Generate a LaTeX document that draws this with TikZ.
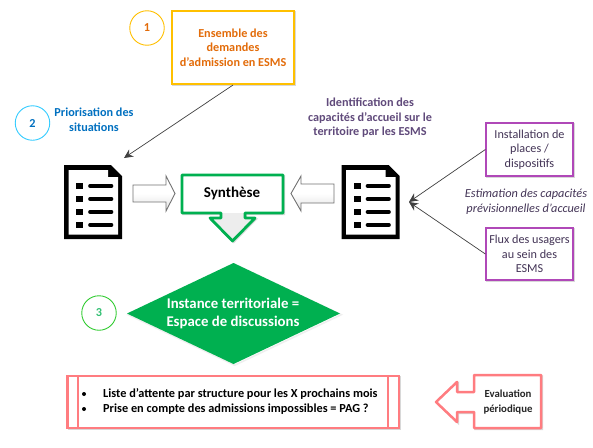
\documentclass[tikz,border=0pt]{standalone}
\usepackage{fontspec}
\setmainfont{Carlito}
\usetikzlibrary{arrows.meta}
\definecolor{cyellow}{HTML}{FFC000}
\definecolor{corange}{HTML}{E36C0A}
\definecolor{ccyan}{HTML}{33CCFF}
\definecolor{cblue}{HTML}{0070C0}
\definecolor{cgreen}{HTML}{00B050}
\definecolor{clgreen}{HTML}{33CC33}
\definecolor{cpurple}{HTML}{604A7B}
\definecolor{cmag}{HTML}{B048B8}
\definecolor{cred}{HTML}{FF7C80}
\definecolor{cdark}{HTML}{404040}
\tikzset{
 x=1pt,y=-1pt,
 lab/.style={align=center,font=\fontsize{12.2}{14.6}\selectfont,inner sep=0pt},
 blab/.style={align=center,font=\fontsize{12.2}{14.6}\selectfont\bfseries,inner sep=0pt},
 numc/.style={circle,draw,line width=.9pt,minimum size=34.5pt,inner sep=0pt,font=\fontsize{12.2}{13}\selectfont\bfseries,fill=white},
 conn/.style={draw=cdark,line width=.7pt,-{Stealth[length=9pt,width=8.5pt]}},
 softshadow/.style={draw=black!30,line width=1.6pt,draw opacity=.5,shift={(1.2pt,-1.2pt)}},
 whitearrow/.style={draw=black!55,line width=.9pt,top color=white,bottom color=black!12,middle color=white},
 docfree/.style={minimum width=58pt,minimum height=74pt,inner sep=0pt}
}
\newcommand{\docicon}[1]{%
 \begin{scope}[shift={(#1,0)}]
  \fill[black] (64,165)--(111,165)--(122,176)--(122,239)--(64,239)--cycle;
  \fill[white] (68.5,170)--(108,170)--(108,177)--(118,177)--(118,234.5)--(68.5,234.5)--cycle;
  \foreach \yy in {186,199,212,225}{
   \fill[black] (76,\yy-3.2) rectangle (83,\yy+3.2);
   \draw[black,line width=3.6pt,line cap=round] (90,\yy)--(111.5,\yy);
  }
 \end{scope}}
\begin{document}
\begin{tikzpicture}
\useasboundingbox (0,0) rectangle (593,447);
\fill[white] (0,0) rectangle (593,447);

% circles
\node[numc,draw=cyellow,text=corange] (c1) at (147,28) {1};
\node[numc,draw=ccyan,text=cblue] (c2) at (32.5,123) {2};
\node[numc,draw=clgreen,text=cgreen!80!white] (c3) at (99,313) {3};

% yellow box
\draw[softshadow] (172,11) rectangle (294,84);
\node[draw=cyellow,line width=2pt,fill=white,minimum width=122pt,minimum height=73pt,blab,text=corange] (demandes) at (233,47.5) {Ensemble des\\demandes\\d’admission en ESMS};

\node[blab,text=cblue] (prio) at (94,120) {Priorisation des\\situations};
\node[blab,text=cpurple] (ident) at (370,118) {Identification des\\capacités d’accueil sur le\\territoire par les ESMS};

% documents
\docicon{0}
\docicon{277.5}
\node[docfree] (doc1) at (93,202) {};
\node[docfree] (doc2) at (370.5,202) {};

% arrows beside synthese
\draw[whitearrow] (133,185)--(166,185)--(166,176)--(175,193.5)--(166,211)--(166,202)--(133,202)--cycle;
\draw[whitearrow] (334,184)--(301,184)--(301,176)--(291,193.5)--(301,211)--(301,203)--(334,203)--cycle;

% synthese with downward callout
\draw[softshadow] (182,175)--(283,175)--(283,213)--(245,213)--(245,218)--(255,218)--(232.5,241)--(210,218)--(221,218)--(221,213)--(182,213)--cycle;
\fill[black!7] (221,213)--(245,213)--(245,218)--(255,218)--(232.5,241)--(210,218)--(221,218)--cycle;
\fill[white] (182,175) rectangle (283,213);
\draw[cgreen,line width=2.8pt,line join=round] (182,175)--(283,175)--(283,213)--(245,213)--(245,218)--(255,218)--(232.5,241)--(210,218)--(221,218)--(221,213)--(182,213)--cycle;
\node[inner sep=0pt,font=\fontsize{15}{17}\selectfont\bfseries] (synth) at (232,193.5) {Synthèse};

% purple boxes
\draw[softshadow] (486,123) rectangle (573,176);
\draw[softshadow] (486,228) rectangle (573,280);
\node[draw=cmag,line width=1.3pt,fill=white,minimum width=87pt,minimum height=53pt,lab,text=cpurple!70!black] (inst) at (529.5,149.5) {Installation de\\places /\\dispositifs};
\node[draw=cmag,line width=1.3pt,fill=white,minimum width=87pt,minimum height=52pt,lab,text=cpurple!70!black] (flux) at (529.5,254) {Flux des usagers\\au sein des\\ESMS};
\node[lab,text=cpurple!70!black,font=\fontsize{12.3}{14.6}\selectfont\itshape] (estim) at (526,201.5) {Estimation des capacités\\prévisionnelles d’accueil};

% connectors
\coordinate (t1) at (124,158);
\coordinate (t2) at (409,202);
\draw[conn] (demandes.south) -- (t1);
\draw[conn] (inst.west) -- (t2);
\draw[conn] (flux.west) -- (t2);

% diamond
\draw[softshadow,draw=black!12] (127,313.5)--(233.5,263)--(340,313.5)--(233.5,364)--cycle;
\fill[cgreen] (127,313.5)--(233.5,263)--(340,313.5)--(233.5,364)--cycle;
\node[inner sep=0pt,align=center,text=white,font=\fontsize{14.8}{18}\selectfont\bfseries] (inst3) at (233,313) {Instance territoriale =\\Espace de discussions};

% predefined process box
\draw[softshadow] (67.5,376) rectangle (399,428);
\node[draw=cred,line width=2.5pt,fill=white,minimum width=331.5pt,minimum height=52pt,inner sep=0pt] (liste) at (233.25,402) {};
\draw[cred,line width=2.5pt] (78,376)--(78,428) (388,376)--(388,428);
\node[anchor=west,inner sep=0pt,font=\fontsize{12.3}{14}\selectfont\bfseries] (l1) at (103,394) {Liste d’attente par structure pour les X prochains mois};
\node[anchor=west,inner sep=0pt,font=\fontsize{12.3}{14}\selectfont\bfseries] (l2) at (103,409) {Prise en compte des admissions impossibles = PAG ?};
\fill[black] (84,394) circle (2) (84,409) circle (2);

% evaluation callout
\draw[softshadow] (474,375)--(541,375)--(541,428)--(474,428)--(474,412)--(457,412)--(457,422)--(436,402)--(457,382)--(457,392)--(474,392)--cycle;
\draw[cred,line width=2.5pt,fill=white,line join=round] (474,375)--(541,375)--(541,428)--(474,428)--(474,412)--(457,412)--(457,422)--(436,402)--(457,382)--(457,392)--(474,392)--cycle;
\node[inner sep=0pt,align=center,font=\fontsize{10.8}{14.4}\selectfont\bfseries,text=black!85] (eval) at (508,402) {Evaluation\\périodique};
\end{tikzpicture}
\end{document}
